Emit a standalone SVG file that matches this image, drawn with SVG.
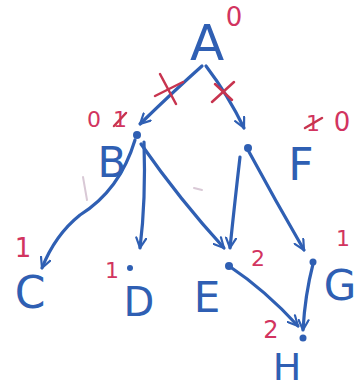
<svg xmlns="http://www.w3.org/2000/svg" width="358" height="392" viewBox="0 0 358 392">
<defs>
<marker id="ah" viewBox="0 0 12 12" refX="11" refY="6" markerWidth="12" markerHeight="12" markerUnits="userSpaceOnUse" orient="auto">
<path d="M1,1 L11,6 L1,11" fill="none" stroke="#2f5fb3" stroke-width="2.2" stroke-linecap="round" stroke-linejoin="round"/>
</marker>
</defs>
<style>
.n{font-family:"DejaVu Sans",sans-serif;fill:#2f5fb3;text-anchor:middle;font-weight:normal}
.r{font-family:"DejaVu Sans",sans-serif;fill:#d2345f;text-anchor:middle}
.e{fill:none;stroke:#2f5fb3;stroke-width:3.2;stroke-linecap:round;marker-end:url(#ah)}
.x{stroke:#c8344f;stroke-width:2.5;stroke-linecap:round}
.dot{fill:#2f5fb3}
.faint{stroke:#d9c9d6;stroke-width:2;stroke-linecap:round}
</style>
<rect width="358" height="392" fill="#ffffff"/>
<g id="connectors">
<path class="e" d="M202,66 Q175,90 140,124"/>
<path class="e" d="M206,66 Q228,95 244,128"/>
<path class="e" d="M135,140 Q120,190 80,215 Q55,235 42,268"/>
<path class="e" d="M144,142 Q146,200 140,248"/>
<path class="e" d="M141,144 Q180,200 224,248"/>
<path class="e" d="M240,157 Q235,200 230,248"/>
<path class="e" d="M248,150 Q275,200 304,250"/>
<path class="e" d="M229,266 Q265,290 298,326"/>
<path class="e" d="M313,264 Q305,295 303,330"/>
<line class="x" x1="160" y1="74" x2="176" y2="104"/>
<line class="x" x1="155" y1="96" x2="183" y2="82"/>
<line class="x" x1="212" y1="102" x2="234" y2="82"/>
<line class="x" x1="215" y1="84" x2="232" y2="100"/>
<line class="faint" x1="83" y1="177" x2="87" y2="200"/>
<line class="faint" x1="194" y1="188" x2="202" y2="190"/>
</g>
<g id="A"><text class="n" x="207" y="60" font-size="50">A</text><text class="r" x="234" y="26" font-size="26">0</text></g>
<g id="B"><circle class="dot" cx="137" cy="135" r="4"/><text class="n" x="112" y="177" font-size="42">B</text><text class="r" x="94" y="127" font-size="22">0</text><text class="r" x="120" y="127" font-size="22">1</text><line class="x" x1="114" y1="126" x2="126" y2="113" stroke-width="2"/></g>
<g id="F"><circle class="dot" cx="248" cy="148" r="4"/><text class="n" x="301" y="180" font-size="44">F</text><text class="r" x="313" y="131" font-size="22">1</text><line class="x" x1="305" y1="128" x2="322" y2="118" stroke-width="2"/><text class="r" x="342" y="131" font-size="26">0</text></g>
<g id="C"><text class="n" x="30" y="308" font-size="44">C</text><text class="r" x="23" y="257" font-size="26">1</text></g>
<g id="D"><circle class="dot" cx="130" cy="268" r="3"/><text class="n" x="139" y="316" font-size="40">D</text><text class="r" x="112" y="278" font-size="22">1</text></g>
<g id="E"><circle class="dot" cx="229" cy="266" r="4"/><text class="n" x="207" y="312" font-size="42">E</text><text class="r" x="258" y="266" font-size="22">2</text></g>
<g id="G"><circle class="dot" cx="313" cy="262" r="3.5"/><text class="n" x="340" y="300" font-size="42">G</text><text class="r" x="343" y="246" font-size="22">1</text></g>
<g id="H"><circle class="dot" cx="303" cy="338" r="3.5"/><text class="n" x="287" y="380" font-size="38">H</text><text class="r" x="271" y="338" font-size="24">2</text></g>
</svg>
